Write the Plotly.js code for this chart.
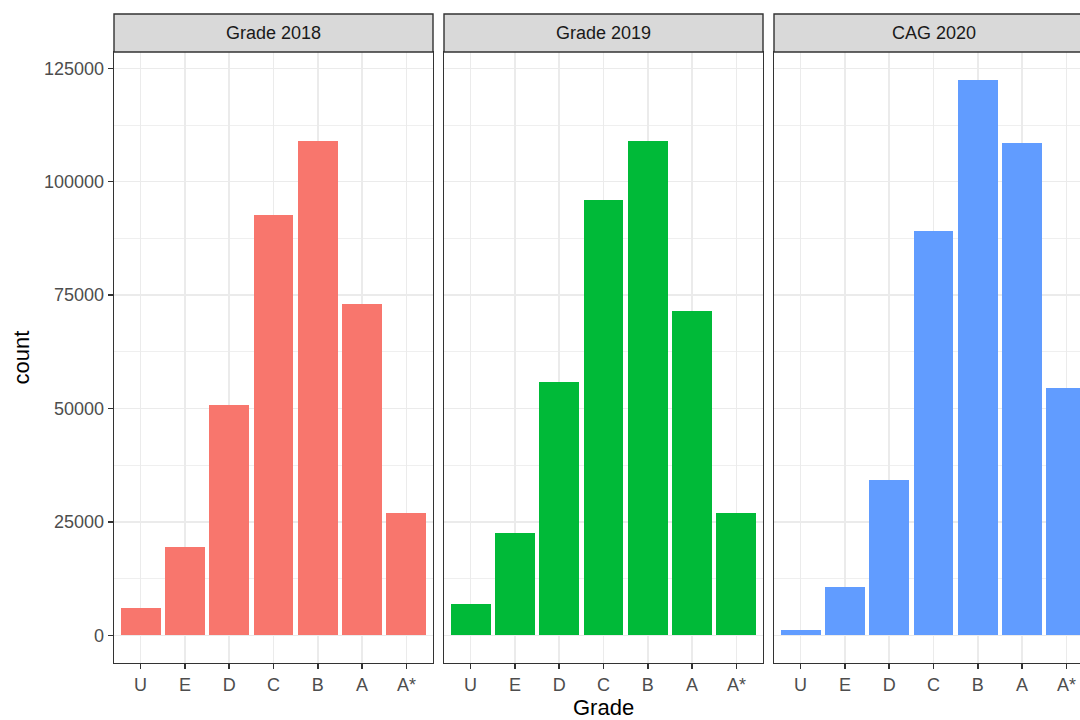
<!DOCTYPE html>
<html>
<head>
<meta charset="utf-8">
<script src="https://cdn.plot.ly/plotly-3.0.1.min.js"></script>
<style>
  html, body { margin: 0; padding: 0; overflow: hidden; background: #fff; }
  #chart { width: 1100px; height: 720px; }
</style>
</head>
<body>
<div id="chart"></div>
<script>
// Data
const grades = ['U', 'E', 'D', 'C', 'B', 'A', 'A*'];
const panelNames = ['Grade 2018', 'Grade 2019', 'CAG 2020'];
const grade2018 = [6100, 19400, 50800, 92700, 109000, 73000, 26900];
const grade2019 = [6800, 22600, 55800, 95900, 109000, 71600, 26900];
const cag2020 = [1100, 10600, 34200, 89200, 122400, 108600, 54500];
const colors = ['#F8766D', '#00BA38', '#619CFF'];
const yTicks = [0, 25000, 50000, 75000, 100000, 125000];

const series = [grade2018, grade2019, cag2020];
const W = 1100, H = 720;
const mL = 114, mR = 7, mT = 52, mB = 57;
const plotW = W - mL - mR;
const panelW = 319, gap = 11;
const FONT = 'Liberation Sans, Arial, sans-serif';

const traces = series.map((vals, i) => ({
  type: 'bar',
  x: grades,
  y: vals,
  xaxis: i === 0 ? 'x' : 'x' + (i + 1),
  yaxis: i === 0 ? 'y' : 'y' + (i + 1),
  width: 0.9,
  marker: { color: colors[i], line: { width: 0 } },
  showlegend: false,
  hoverinfo: 'x+y'
}));

const layout = {
  width: W, height: H,
  margin: { l: mL, r: mR, t: mT, b: mB },
  paper_bgcolor: '#ffffff',
  plot_bgcolor: '#ffffff',
  font: { family: FONT, size: 18, color: '#4D4D4D' },
  bargap: 0,
  shapes: [],
  annotations: []
};

const tickFont = { family: FONT, size: 18, color: '#4D4D4D' };
const stripTop = 1 + (mT - 14) / (H - mT - mB);

for (let i = 0; i < 3; i++) {
  const d0 = (i * (panelW + gap)) / plotW;
  const d1 = Math.min(1, (i * (panelW + gap) + panelW) / plotW);
  const xk = i === 0 ? 'xaxis' : 'xaxis' + (i + 1);
  const yk = i === 0 ? 'yaxis' : 'yaxis' + (i + 1);
  const yref = i === 0 ? 'y' : 'y' + (i + 1);
  const xref = i === 0 ? 'x' : 'x' + (i + 1);
  layout[xk] = {
    domain: [d0, d1],
    anchor: yref,
    type: 'category',
    categoryorder: 'array',
    categoryarray: grades,
    range: [-0.6, 6.6],
    showline: true, mirror: true, linecolor: '#333333', linewidth: 1.4,
    ticks: 'outside', ticklen: 5, tickwidth: 1.4, tickcolor: '#333333',
    showgrid: true, gridcolor: '#EBEBEB', gridwidth: 1.4,
    zeroline: false,
    tickfont: tickFont,
    fixedrange: true
  };
  layout[yk] = {
    domain: [0, 1],
    anchor: xref,
    range: [-6100, 128600],
    tickvals: yTicks,
    ticktext: yTicks.map(v => String(v)),
    showline: true, mirror: true, linecolor: '#333333', linewidth: 1.4,
    ticks: i === 0 ? 'outside' : '',
    ticklen: 5, tickwidth: 1.4, tickcolor: '#333333',
    showticklabels: i === 0,
    showgrid: true, gridcolor: '#EBEBEB', gridwidth: 1.4,
    minor: { dtick: 25000, tick0: 12500, showgrid: true, gridcolor: '#EFEFEF', gridwidth: 1, ticks: '' },
    zeroline: false,
    tickfont: tickFont,
    fixedrange: true
  };
  if (i > 0) layout[yk].matches = 'y';
  // facet strip
  layout.shapes.push({
    type: 'rect', xref: 'paper', yref: 'paper',
    x0: d0, x1: (i * (panelW + gap) + panelW) / plotW, y0: 1, y1: stripTop,
    fillcolor: '#D9D9D9', line: { color: '#333333', width: 1.4 }, layer: 'above'
  });
  layout.annotations.push({
    xref: 'paper', yref: 'paper',
    x: (i * (panelW + gap) + panelW / 2) / plotW, y: (1 + stripTop) / 2,
    xanchor: 'center', yanchor: 'middle',
    text: panelNames[i], showarrow: false,
    font: { family: FONT, size: 18, color: '#1A1A1A' }
  });
}

layout.yaxis.title = { text: 'count', font: { family: FONT, size: 22, color: '#000000' }, standoff: 8 };

// x-axis title centred across all panels
layout.annotations.push({
  xref: 'paper', yref: 'paper', x: 0.5, y: 0, yshift: -(707 - (H - mB)),
  xanchor: 'center', yanchor: 'middle', text: 'Grade', showarrow: false,
  font: { family: FONT, size: 22, color: '#000000' }
});

Plotly.newPlot('chart', traces, layout, { displayModeBar: false, staticPlot: true });
</script>
</body>
</html>
